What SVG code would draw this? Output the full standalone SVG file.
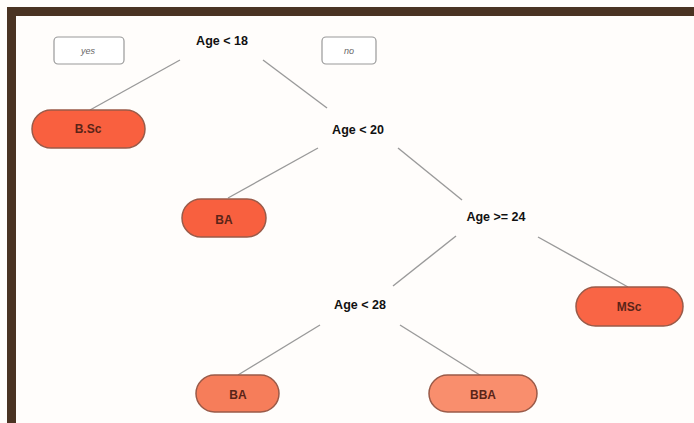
<svg xmlns="http://www.w3.org/2000/svg" width="694" height="423" viewBox="0 0 694 423">
<style>
.lbl{font-family:"Liberation Sans",Arial,sans-serif;font-weight:bold;font-size:12.5px;fill:#111;text-anchor:middle}
.leaf rect{stroke:#9a5a48;stroke-width:1.5}
.leaf text{font-family:"Liberation Sans",Arial,sans-serif;font-weight:bold;font-size:12px;fill:#5a2418;text-anchor:middle}
.tag rect{fill:#fff;stroke:#999;stroke-width:1.2}
.tag text{font-family:"Liberation Sans",Arial,sans-serif;font-style:italic;font-size:9px;fill:#666;text-anchor:middle}
#connectors line{stroke:#9a9a9a;stroke-width:1.4}
</style>
<rect width="694" height="423" fill="#fffdfb"/>
<rect x="7" y="7" width="687" height="9" fill="#4a3322"/>
<rect x="7" y="7" width="9" height="416" fill="#4a3322"/>
<g id="tag-yes" class="tag"><rect x="54" y="37" width="70" height="27" rx="4"/><text x="88" y="54">yes</text></g>
<g id="tag-no" class="tag"><rect x="322" y="37" width="54" height="27" rx="4"/><text x="349" y="54">no</text></g>
<g id="connectors">
<line x1="180" y1="60" x2="90" y2="110"/>
<line x1="263" y1="60" x2="327" y2="108"/>
<line x1="318" y1="148" x2="228" y2="198"/>
<line x1="398" y1="148" x2="462" y2="200"/>
<line x1="456" y1="236" x2="393" y2="286"/>
<line x1="538" y1="237" x2="628" y2="287"/>
<line x1="320" y1="325" x2="238" y2="375"/>
<line x1="400" y1="325" x2="483" y2="377"/>
</g>
<g id="n-age18"><text class="lbl" x="222" y="45">Age &lt; 18</text></g>
<g id="n-age20"><text class="lbl" x="358" y="134">Age &lt; 20</text></g>
<g id="n-age24"><text class="lbl" x="496" y="221">Age &gt;= 24</text></g>
<g id="n-age28"><text class="lbl" x="360" y="309">Age &lt; 28</text></g>
<g id="leaf-bsc" class="leaf"><rect x="32" y="110" width="113" height="38" rx="19" fill="#f9603f"/><text x="88" y="133">B.Sc</text></g>
<g id="leaf-ba1" class="leaf"><rect x="182" y="199" width="84" height="38" rx="19" fill="#f8603f"/><text x="224" y="224">BA</text></g>
<g id="leaf-msc" class="leaf"><rect x="576" y="287" width="107" height="39" rx="19.5" fill="#f96545"/><text x="629" y="311">MSc</text></g>
<g id="leaf-ba2" class="leaf"><rect x="196" y="375" width="83" height="37" rx="18.5" fill="#f67d5a"/><text x="238" y="399">BA</text></g>
<g id="leaf-bba" class="leaf"><rect x="429" y="375" width="108" height="37" rx="18.5" fill="#f98e6d"/><text x="483" y="399">BBA</text></g>
</svg>
